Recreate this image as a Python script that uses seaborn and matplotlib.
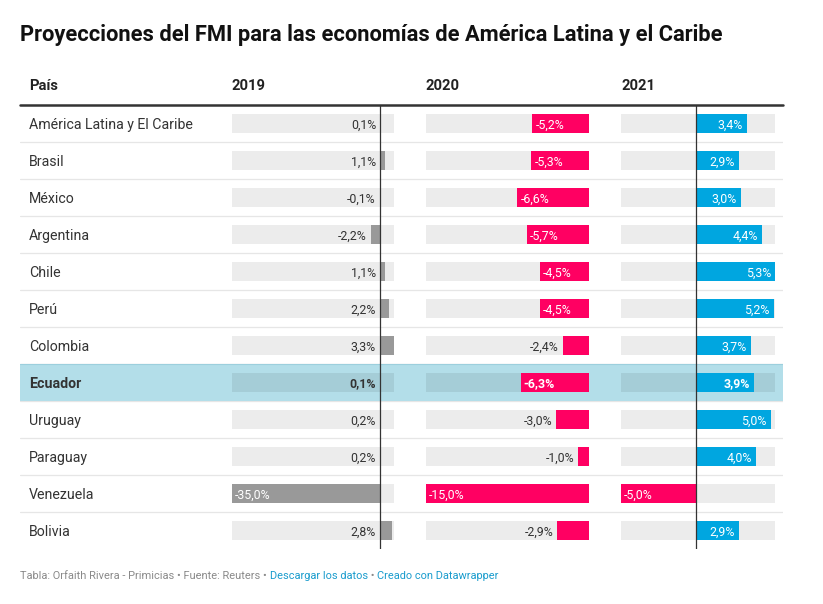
import matplotlib
matplotlib.use("Agg")
import matplotlib.pyplot as plt
import seaborn as sns
import pandas as pd

# ---------------- data ----------------
countries = ["América Latina y El Caribe", "Brasil", "México", "Argentina", "Chile",
             "Perú", "Colombia", "Ecuador", "Uruguay", "Paraguay", "Venezuela", "Bolivia"]
v2019 = [0.1, 1.1, -0.1, -2.2, 1.1, 2.2, 3.3, 0.1, 0.2, 0.2, -35.0, 2.8]
v2020 = [-5.2, -5.3, -6.6, -5.7, -4.5, -4.5, -2.4, -6.3, -3.0, -1.0, -15.0, -2.9]
v2021 = [3.4, 2.9, 3.0, 4.4, 5.3, 5.2, 3.7, 3.9, 5.0, 4.0, -5.0, 2.9]
years = ["2019", "2020", "2021"]
first_header = "País"
highlight = "Ecuador"
title = "Proyecciones del FMI para las economías de América Latina y el Caribe"
footer_parts = [("Tabla: Orfaith Rivera - Primicias • Fuente: Reuters • ", "grey"),
                ("Descargar los datos", "link"),
                (" • ", "grey"),
                ("Creado con Datawrapper", "link")]

# ---------------- style ----------------
sns.set_style("white")
plt.rcParams["font.family"] = ["Roboto", "DejaVu Sans"]

GREY_BAR = "#999999"
NEG = "#ff0062"
POS = "#00a6e0"
DARK = "#333333"
BAND = "#b3dee9"

W, H = 823, 604
fig = plt.figure(figsize=(W / 100, H / 100), dpi=100)


def fx(px):
    return px / W


def fy(py):
    return 1 - py / H


TOP, BOTTOM = 105, 549
n = len(countries)
hi = countries.index(highlight)

# ---------------- table frame ----------------
axm = fig.add_axes([fx(20), fy(BOTTOM), fx(783) - fx(20), (BOTTOM - TOP) / H])
axm.set_xlim(0, 1)
axm.set_ylim(n - 0.5, -0.5)
axm.axis("off")
for i in range(n - 1):
    axm.axhline(i + 0.5, color="#e6e6e6", lw=0.9, zorder=1)
axm.axhspan(hi - 0.5, hi + 0.5, color=BAND, zorder=2, lw=0)
axm.axhline(hi - 0.5, color="#9ccfdd", lw=0.8, zorder=3)
axm.axhline(-0.5, color="#333333", lw=1.8, zorder=4, clip_on=False)

for i, c in enumerate(countries):
    axm.annotate(c, xy=(0, i), xycoords=("axes fraction", "data"),
                 xytext=(9, 0), textcoords="offset pixels",
                 ha="left", va="center_baseline", fontsize=10.2, color=DARK,
                 fontweight="bold" if c == highlight else "normal", zorder=5)
axm.annotate(first_header, xy=(0, 1), xycoords="axes fraction", xytext=(9, 20),
             textcoords="offset pixels", ha="left", va="center_baseline",
             fontsize=10.6, fontweight="bold", color="#222222")

# ---------------- bar columns ----------------
col_spans = [(232, 394), (426, 589), (621, 775)]
all_vals = [v2019, v2020, v2021]

for k, (yr, vals, (x0, x1)) in enumerate(zip(years, all_vals, col_spans)):
    ax = fig.add_axes([fx(x0), fy(BOTTOM), (x1 - x0) / W, (BOTTOM - TOP) / H])
    ax.patch.set_visible(False)
    dmin, dmax = min(min(vals), 0), max(max(vals), 0)
    df = pd.DataFrame({"País": countries, "v": vals})
    if k == 0:
        colors = [GREY_BAR] * n
    else:
        colors = [NEG if v < 0 else POS for v in vals]
    ax.barh(range(n), dmax - dmin, left=dmin, height=0.54, color="black",
            alpha=0.075, lw=0, zorder=1)
    sns.barplot(data=df, x="v", y="País", hue="País",
                palette=dict(zip(countries, colors)), legend=False, orient="h",
                width=0.54, saturation=1, ax=ax, zorder=2, linewidth=0)
    if dmin < 0 < dmax:
        ax.axvline(0, color="#333333", lw=0.9, zorder=3)
    ax.set_xlim(dmin, dmax)
    ax.set_ylim(n - 0.5, -0.5)
    ax.axis("off")
    ppu = (x1 - x0) / (dmax - dmin)
    for i, v in enumerate(vals):
        txt = f"{v:.1f}%".replace(".", ",")
        bold = countries[i] == highlight
        pxw = abs(v) * ppu
        if pxw >= 38:
            col = "white"
            if v < 0:
                x, ha, off = v, "left", 3
            else:
                x, ha, off = v, "right", -4
        else:
            col = DARK
            if v < 0:
                x, ha, off = v, "right", -4
            else:
                x, ha, off = 0, "right", -4
        ax.annotate(txt, xy=(x, i), xycoords="data", xytext=(off, 0),
                    textcoords="offset pixels", ha=ha, va="center_baseline",
                    fontsize=8.9, color=col,
                    fontweight="bold" if bold else "normal", zorder=5)
    ax.annotate(yr, xy=(0, 1), xycoords="axes fraction", xytext=(0, 20),
                textcoords="offset pixels", ha="left", va="center_baseline",
                fontsize=10.6, fontweight="bold", color="#222222")

# ---------------- title & footer ----------------
fig.text(fx(20), fy(33), title, fontsize=15.75, fontweight="bold", color="#111111",
         ha="left", va="center_baseline")

prev = None
for text, kind in footer_parts:
    color = "#8a8a8a" if kind == "grey" else "#1a9ccd"
    if prev is None:
        prev = fig.text(fx(20), fy(575), text, fontsize=7.9, color=color,
                        ha="left", va="center_baseline")
    else:
        prev = fig.add_artist(plt.Annotation(text, xy=(1, 0), xycoords=prev,
                                             ha="left", va="bottom",
                                             fontsize=7.9, color=color))

fig.savefig("out.png", dpi=100)
